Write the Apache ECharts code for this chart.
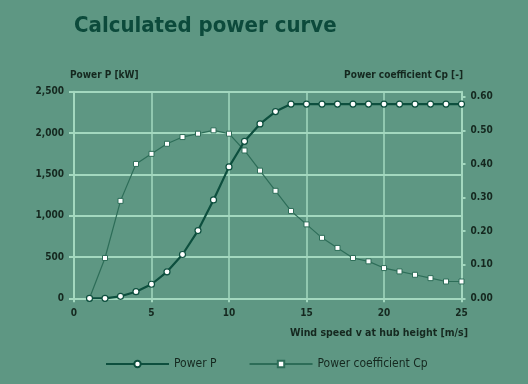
<!DOCTYPE html>
<html>
<head>
<meta charset="utf-8">
<script src="https://cdn.jsdelivr.net/npm/echarts@6/dist/echarts.min.js"></script>
<style>
html,body{margin:0;padding:0;background:#5e9783;}
#c{width:528px;height:384px;}
</style>
</head>
<body>
<div id="c"></div>
<script>
var windSpeed = [1,2,3,4,5,6,7,8,9,10,11,12,13,14,15,16,17,18,19,20,21,22,23,24,25];
var powerP = [0,0,24,80,170,320,530,820,1190,1590,1900,2110,2260,2350,2350,2350,2350,2350,2350,2350,2350,2350,2350,2350,2350];
var cp = [0,0.12,0.29,0.40,0.43,0.46,0.48,0.49,0.50,0.49,0.44,0.38,0.32,0.26,0.22,0.18,0.15,0.12,0.11,0.09,0.08,0.07,0.06,0.05,0.05];
var leftTicks = [0,500,1000,1500,2000,2500];
var rightTicks = [0,0.1,0.2,0.3,0.4,0.5,0.6];

var FONT = "'Liberation Sans Narrow','DejaVu Sans Condensed',sans-serif";
var DARK = '#0c4a3b';
var GRIDC = '#a3d8bf';
var TXT = '#15281f';

var chart = echarts.init(document.getElementById('c'));
var pData = windSpeed.map(function(v,i){return [v, powerP[i]];});
var cData = windSpeed.map(function(v,i){return [v, cp[i]];});

chart.setOption({
  backgroundColor: '#5e9783',
  animation: false,
  title: {
    text: 'Calculated power curve',
    left: 69, top: 10,
    textStyle: {fontFamily: FONT, fontSize: 22, fontWeight: 'bold', color: DARK}
  },
  graphic: [
    {type:'text', left: 70, top: 70, style:{text:'Power P [kW]', font:'bold 10px ' + FONT, fill: TXT}},
    {type:'text', right: 65, top: 70, style:{text:'Power coefficient Cp [-]', font:'bold 10px ' + FONT, fill: TXT}},
    {type:'text', right: 60, top: 328, style:{text:'Wind speed v at hub height [m/s]', font:'bold 10.5px ' + FONT, fill: TXT}}
  ],
  legend: {
    top: 353, left: 100,
    itemWidth: 63, itemHeight: 8, itemGap: 32,
    textStyle: {fontFamily: FONT, fontSize: 12, color: TXT},
    data: ['Power P', 'Power coefficient Cp']
  },
  grid: {left: 74, right: 66.5, top: 91.7, bottom: 85.7, containLabel: false},
  xAxis: {
    type: 'value', min: 0, max: 25, interval: 5,
    axisLine: {lineStyle: {color: GRIDC, width: 2}},
    axisTick: {show: true, length: 4, lineStyle: {color: GRIDC, width: 2}},
    axisLabel: {fontFamily: FONT, fontWeight: 'bold', fontSize: 10, color: TXT, margin: 10},
    splitLine: {show: true, lineStyle: {color: GRIDC, width: 1.5}}
  },
  yAxis: [
    {
      type: 'value', min: 0, max: 2500, interval: 500, position: 'left',
      axisLine: {show: true, lineStyle: {color: GRIDC, width: 2}},
      axisTick: {show: true, length: 5, lineStyle: {color: GRIDC, width: 2}},
      axisLabel: {fontFamily: FONT, fontWeight: 'bold', fontSize: 10, color: TXT, margin: 10,
        formatter: function(v){ return leftTicks.indexOf(v) >= 0 ? v.toLocaleString('en-US') : ''; }},
      splitLine: {show: true, lineStyle: {color: GRIDC, width: 2}}
    },
    {
      type: 'value', min: 0, max: 0.615, interval: 0.1, position: 'right',
      axisLine: {show: true, lineStyle: {color: GRIDC, width: 2}},
      axisTick: {show: true, length: 4, lineStyle: {color: GRIDC, width: 2}},
      axisLabel: {fontFamily: FONT, fontWeight: 'bold', fontSize: 10, color: TXT, margin: 9, showMaxLabel: false,
        formatter: function(v){
          for (var i=0;i<rightTicks.length;i++){ if (Math.abs(rightTicks[i]-v) < 1e-6) return rightTicks[i].toFixed(2); }
          return '';
        }},
      splitLine: {show: false}
    }
  ],
  series: [
    {
      name: 'Power P', type: 'line', yAxisIndex: 0, data: pData,
      symbol: 'circle', symbolSize: 6, showSymbol: true,
      lineStyle: {color: '#0d4f3e', width: 2.2},
      itemStyle: {color: '#ffffff', borderColor: '#0d4f3e', borderWidth: 1.2},
      z: 3
    },
    {
      name: 'Power coefficient Cp', type: 'line', yAxisIndex: 1, data: cData,
      symbol: 'rect', symbolSize: 5, showSymbol: true,
      lineStyle: {color: '#2d6d58', width: 1.2},
      itemStyle: {color: '#ffffff', borderColor: '#2d6d58', borderWidth: 1},
      z: 2
    }
  ]
});
</script>
</body>
</html>
